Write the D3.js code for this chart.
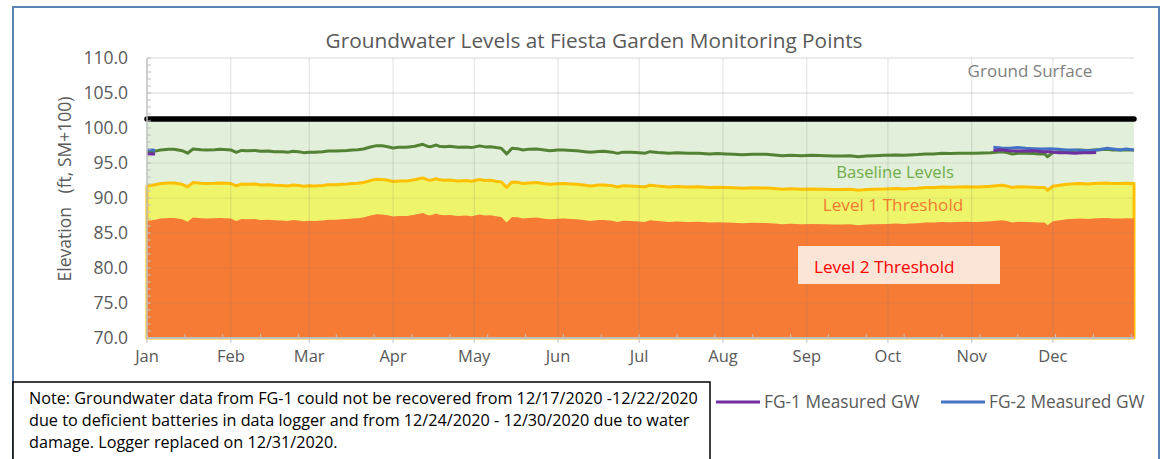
<!DOCTYPE html>
<html>
<head>
<meta charset="utf-8">
<script src="https://cdn.jsdelivr.net/npm/d3@7"></script>
<style>
  body { margin: 0; background: #fff; }
  svg { display: block; font-family: "Open Sans", "Noto Sans", sans-serif; }
</style>
</head>
<body>
<svg id="chart" width="1162" height="459"></svg>
<script>
// day of year (0 = Jan 1 2020) and water level
var baselineDay = [0, 3, 5, 8, 10, 13, 15, 17, 20, 22, 25, 27, 31, 33, 35, 37, 40, 42, 45, 47, 50, 52, 54, 56, 58, 60, 62, 65, 67, 70,
    72, 74, 76, 78, 80, 83, 85, 87, 89, 91, 93, 96, 99, 102, 104, 105, 107, 108, 110, 112, 115, 118, 120, 123, 125, 127, 129, 131, 133, 135,
    137, 139, 141, 144, 147, 149, 152, 154, 157, 159, 162, 164, 167, 169, 172, 174, 176, 179, 182, 184, 186, 189, 193, 196, 200, 204, 208, 211, 214, 217,
    220, 224, 229, 232, 235, 238, 242, 246, 251, 254, 257, 260, 263, 266, 269, 273, 277, 280, 282, 285, 288, 291, 294, 297, 300, 303, 306, 309, 312, 314,
    316, 318, 320, 322, 325, 328, 330, 332, 333, 335, 337, 340, 342, 345, 348, 350, 352, 355, 357, 360, 362, 365];
var baselineLevel = [96.5, 96.7, 96.86, 96.95, 96.95, 96.76, 96.4, 97.0, 96.9, 96.86, 96.9, 96.95, 96.86, 96.52, 96.8, 96.76, 96.8, 96.67, 96.7, 96.62, 96.6, 96.52, 96.67, 96.6, 96.48, 96.55, 96.52, 96.6, 96.71, 96.7,
    96.76, 96.8, 96.86, 96.9, 97.0, 97.33, 97.48, 97.45, 97.33, 97.15, 97.24, 97.24, 97.4, 97.67, 97.35, 97.33, 97.57, 97.4, 97.33, 97.38, 97.24, 97.3, 97.2, 97.45, 97.3, 97.33, 97.2, 97.1, 96.3, 97.1,
    97.05, 96.86, 96.95, 97.0, 96.85, 96.76, 96.85, 96.86, 96.8, 96.76, 96.62, 96.52, 96.65, 96.67, 96.55, 96.38, 96.55, 96.52, 96.45, 96.38, 96.62, 96.5, 96.38, 96.45, 96.38, 96.4, 96.29, 96.35, 96.29, 96.25,
    96.19, 96.25, 96.24, 96.15, 96.05, 96.12, 96.05, 96.1, 96.05, 96.0, 96.0, 96.05, 95.9, 96.0, 96.05, 96.1, 96.14, 96.1, 96.14, 96.2, 96.29, 96.3, 96.38, 96.35, 96.38, 96.4, 96.38, 96.42, 96.48, 96.55,
    96.62, 96.5, 96.29, 96.4, 96.38, 96.35, 96.29, 96.3, 95.9, 96.48, 96.6, 96.76, 96.8, 96.86, 96.8, 96.86, 96.9, 96.95, 96.86, 96.86, 96.9, 96.86];

// thresholds sit a fixed depth below the baseline
var level1Depth = 4.8;
var level2Depth = 9.8;
var groundSurface = 101.3;

var fg1Day = [0, 1, 2, 3, null, 313, 316, 319, 322, 325, 328, 331, 334, 337, 340, 343, 346, 349, 351];
var fg1Level = [96.35, 96.3, 96.32, 96.3, null, 96.8, 96.9, 96.76, 96.71, 96.71, 96.75, 96.62, 96.6, 96.48, 96.45, 96.38, 96.45, 96.48, 96.5];
var fg2Day = [0, 1, 2, 3, null, 313, 316, 319, 322, 325, 328, 331, 334, 337, 340, 343, 346, 349, 352, 355, 358, 360, 362, 365];
var fg2Level = [96.9, 96.85, 96.85, 96.8, null, 97.24, 97.15, 97.1, 97.2, 97.1, 97.05, 97.0, 97.05, 96.95, 96.86, 96.86, 96.8, 96.76, 96.9, 97.1, 96.95, 96.86, 97.0, 96.86];

var yTicks = [70, 75, 80, 85, 90, 95, 100, 105, 110];
var monthLabels = ["Jan", "Feb", "Mar", "Apr", "May", "Jun", "Jul", "Aug", "Sep", "Oct", "Nov", "Dec"];

var noteLines = [
    "Note: Groundwater data from FG-1 could not be recovered from 12/17/2020 -12/22/2020",
    "due to deficient batteries in data logger and from 12/24/2020 - 12/30/2020 due to water",
    "damage. Logger replaced on 12/31/2020."
];

var start = new Date(2020, 0, 1);
var end = new Date(2020, 11, 31);
function toDate(d) { return d3.timeDay.offset(start, d); }

var svg = d3.select("#chart");
var plotLeft = 147, plotRight = 1134, plotTop = 58, plotBottom = 338;

var x = d3.scaleTime().domain([start, end]).range([plotLeft, plotRight]);
var y = d3.scaleLinear().domain([70, 110]).range([plotBottom, plotTop]);

var base = baselineDay.map(function (d, i) {
    return {date: toDate(d), v: baselineLevel[i]};
});

// chart frame
svg.append("rect").attr("x", 13).attr("y", 7).attr("width", 1146).attr("height", 460)
    .attr("fill", "#fff").attr("stroke", "#5A82B4").attr("stroke-width", 2);

svg.append("text").attr("x", 594).attr("y", 48).attr("text-anchor", "middle")
    .attr("font-size", 20.8).attr("fill", "#595959")
    .text("Groundwater Levels at Fiesta Garden Monitoring Points");

// white-area gridlines
svg.append("g").selectAll("line").data(yTicks).enter().append("line")
    .attr("x1", plotLeft).attr("x2", plotRight)
    .attr("y1", function (d) { return y(d); }).attr("y2", function (d) { return y(d); })
    .attr("stroke", "#D9D9D9");

// baseline band (between level 1 and ground surface)
svg.append("path").datum(base)
    .attr("fill", "#E2EFDA")
    .attr("d", d3.area()
        .x(function (d) { return x(d.date); })
        .y0(function (d) { return y(d.v - level1Depth); })
        .y1(y(groundSurface)));

// level 1 band
svg.append("path").datum(base)
    .attr("fill", "#EFF56B").attr("stroke", "#FFC000").attr("stroke-width", 3).attr("stroke-linejoin", "round")
    .attr("d", d3.area()
        .x(function (d) { return x(d.date); })
        .y0(y(70))
        .y1(function (d) { return y(d.v - level1Depth); }));

// level 2 band
svg.append("path").datum(base)
    .attr("fill", "#F67C36")
    .attr("d", d3.area()
        .x(function (d) { return x(d.date); })
        .y0(y(70))
        .y1(function (d) { return y(d.v - level2Depth); }));

// gridlines showing faintly through the bands
var months = d3.range(12).map(function (m) { return new Date(2020, m, 1); });
svg.append("g").selectAll("line").data(months.slice(1)).enter().append("line")
    .attr("x1", function (d) { return x(d); }).attr("x2", function (d) { return x(d); })
    .attr("y1", plotTop).attr("y2", plotBottom)
    .attr("stroke", "rgba(120,120,120,0.22)");
svg.append("g").selectAll("line").data(yTicks.slice(1, 6)).enter().append("line")
    .attr("x1", plotLeft).attr("x2", plotRight)
    .attr("y1", function (d) { return y(d); }).attr("y2", function (d) { return y(d); })
    .attr("stroke", "rgba(120,120,120,0.15)");

// band labels
svg.append("text").attr("x", 895).attr("y", 178).attr("text-anchor", "middle")
    .attr("font-size", 16.7).attr("fill", "#70AD47").text("Baseline Levels");
svg.append("text").attr("x", 893).attr("y", 211).attr("text-anchor", "middle")
    .attr("font-size", 17.2).attr("fill", "#F07A30").text("Level 1 Threshold");
svg.append("rect").attr("x", 798).attr("y", 246).attr("width", 202).attr("height", 38).attr("fill", "#FCE4D6");
svg.append("text").attr("x", 814).attr("y", 273)
    .attr("font-size", 17.2).attr("fill", "#FF0000").text("Level 2 Threshold");
svg.append("text").attr("x", 1030).attr("y", 77).attr("text-anchor", "middle")
    .attr("font-size", 17).attr("fill", "#7F7F7F").text("Ground Surface");

var line = d3.line()
    .defined(function (d) { return d.v != null; })
    .x(function (d) { return x(d.date); })
    .y(function (d) { return y(d.v); });

svg.append("path").datum(base).attr("fill", "none")
    .attr("stroke", "#548235").attr("stroke-width", 3).attr("stroke-linejoin", "round").attr("d", line);

function series(days, levels) {
    return days.map(function (d, i) {
        return {date: d == null ? start : toDate(d), v: levels[i]};
    });
}
svg.append("path").datum(series(fg2Day, fg2Level)).attr("fill", "none")
    .attr("stroke", "#4472C4").attr("stroke-width", 3).attr("stroke-linejoin", "round").attr("d", line);
svg.append("path").datum(series(fg1Day, fg1Level)).attr("fill", "none")
    .attr("stroke", "#7030A0").attr("stroke-width", 3).attr("stroke-linejoin", "round").attr("d", line);

// ground surface
svg.append("line")
    .attr("x1", x(start)).attr("x2", x(end))
    .attr("y1", y(groundSurface)).attr("y2", y(groundSurface))
    .attr("stroke", "#000").attr("stroke-width", 5.5).attr("stroke-linecap", "round");

// axes
var yAxis = svg.append("g").attr("transform", "translate(" + plotLeft + ",0)");
yAxis.append("line").attr("y1", plotTop).attr("y2", plotBottom).attr("stroke", "#BFBFBF").attr("stroke-width", 1.5);
yAxis.selectAll(".minor").data(d3.range(70, 111, 1)).enter().append("line")
    .attr("x1", 0).attr("x2", 4)
    .attr("y1", function (d) { return y(d); }).attr("y2", function (d) { return y(d); })
    .attr("stroke", "#BFBFBF");
yAxis.selectAll("text").data(yTicks).enter().append("text")
    .attr("x", -19).attr("y", function (d) { return y(d) + 6; })
    .attr("text-anchor", "end").attr("font-size", 17.5).attr("fill", "#595959")
    .text(function (d) { return d3.format(".1f")(d); });

var xAxis = svg.append("g");
xAxis.append("line").attr("x1", plotLeft).attr("x2", plotRight).attr("y1", plotBottom).attr("y2", plotBottom)
    .attr("stroke", "#BFBFBF").attr("stroke-width", 2);
xAxis.selectAll(".minor").data(d3.range(0, 366, 14)).enter().append("line")
    .attr("x1", function (d) { return x(toDate(d)); }).attr("x2", function (d) { return x(toDate(d)); })
    .attr("y1", plotBottom).attr("y2", plotBottom - 4).attr("stroke", "#BFBFBF");
xAxis.selectAll(".major").data(months).enter().append("line")
    .attr("x1", function (d) { return x(d); }).attr("x2", function (d) { return x(d); })
    .attr("y1", plotBottom).attr("y2", plotBottom + 5).attr("stroke", "#BFBFBF");
xAxis.selectAll("text").data(months).enter().append("text")
    .attr("x", function (d) { return x(d); }).attr("y", 362)
    .attr("text-anchor", "middle").attr("font-size", 16.5).attr("fill", "#595959")
    .text(function (d, i) { return monthLabels[i]; });

svg.append("text")
    .attr("transform", "translate(71,189) rotate(-90)")
    .attr("text-anchor", "middle").attr("font-size", 17.5).attr("fill", "#595959")
    .attr("xml:space", "preserve")
    .text("Elevation   (ft, SM+100)");

// legend
var legend = [
    {name: "FG-1 Measured GW", color: "#7030A0", x: 716},
    {name: "FG-2 Measured GW", color: "#4472C4", x: 941}
];
var lg = svg.append("g").selectAll("g").data(legend).enter().append("g")
    .attr("transform", function (d) { return "translate(" + d.x + ",402)"; });
lg.append("line").attr("x2", 44).attr("stroke", function (d) { return d.color; }).attr("stroke-width", 3);
lg.append("text").attr("x", 48).attr("y", 6).attr("font-size", 17.3).attr("fill", "#595959")
    .text(function (d) { return d.name; });

// note box
svg.append("rect").attr("x", 13).attr("y", 382).attr("width", 697).attr("height", 90)
    .attr("fill", "#fff").attr("stroke", "#000").attr("stroke-width", 1.5);
svg.append("g").selectAll("text").data(noteLines).enter().append("text")
    .attr("x", 29).attr("y", function (d, i) { return 404 + i * 22; })
    .attr("font-size", 16.2).attr("fill", "#000")
    .text(function (d) { return d; });
</script>
</body>
</html>
